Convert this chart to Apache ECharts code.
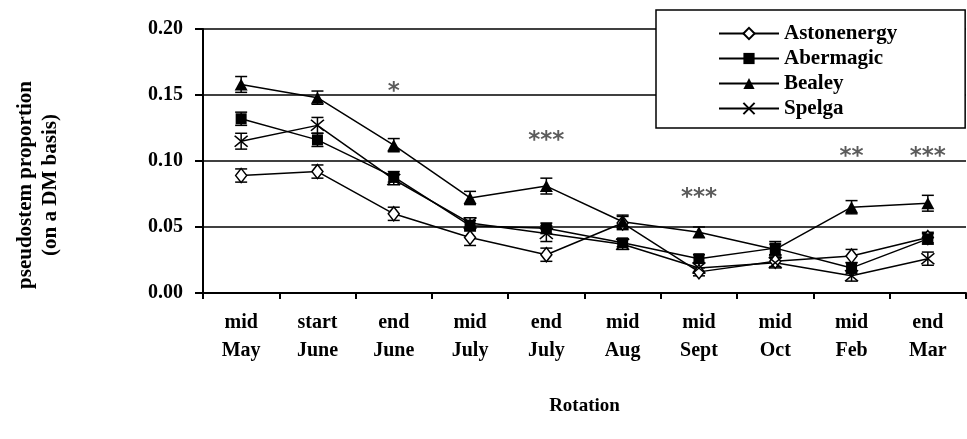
<!DOCTYPE html>
<html><head><meta charset="utf-8">
<script src="https://cdn.jsdelivr.net/npm/echarts@6/dist/echarts.min.js"></script>
<style>html,body{margin:0;padding:0;background:#fff}#c{width:967px;height:439px}</style>
</head><body><div id="c"></div>
<script>
const categories = ['mid\nMay','start\nJune','end\nJune','mid\nJuly','end\nJuly','mid\nAug','mid\nSept','mid\nOct','mid\nFeb','end\nMar'];
const yTicks = [0, 0.05, 0.10, 0.15, 0.20];
const astonenergy = [0.089, 0.092, 0.060, 0.042, 0.029, 0.053, 0.016, 0.024, 0.028, 0.042];
const abermagic   = [0.132, 0.116, 0.088, 0.051, 0.049, 0.038, 0.026, 0.034, 0.019, 0.041];
const bealey      = [0.158, 0.148, 0.112, 0.072, 0.081, 0.054, 0.046, 0.033, 0.065, 0.068];
const spelga      = [0.115, 0.127, 0.086, 0.053, 0.045, 0.037, 0.019, 0.023, 0.013, 0.026];
const astonenergyErr = [0.005, 0.005, 0.005, 0.006, 0.005, 0.005, 0.003, 0.004, 0.005, 0.004];
const abermagicErr   = [0.005, 0.005, 0.004, 0.004, 0.004, 0.003, 0.003, 0.005, 0.004, 0.004];
const bealeyErr      = [0.006, 0.005, 0.005, 0.005, 0.006, 0.005, 0.004, 0.004, 0.005, 0.006];
const spelgaErr      = [0.006, 0.006, 0.004, 0.004, 0.006, 0.004, 0.004, 0.004, 0.004, 0.005];
const stars     = ['', '', '*', '', '***', '', '***', '', '**', '***'];
const starLevel = [null, null, 0.156, null, 0.119, null, 0.076, null, 0.107, 0.107];

const FONT = 'Liberation Serif';
const names = ['Astonenergy','Abermagic','Bealey','Spelga'];
const values = [astonenergy, abermagic, bealey, spelga];
const errs = [astonenergyErr, abermagicErr, bealeyErr, spelgaErr];
const symbols = ['diamond', 'rect', 'triangle', 'path://M0,0L12,10M12,0L0,10'];
const symbolSizes = [[11,14], 11, [13,12], [13,11]];
const fills = ['#fff', '#000', '#000', 'none'];

const series = [];
names.forEach((n, k) => {
  series.push({
    name: n + ' err', type: 'custom', silent: true, z: 2,
    data: values[k].map((v, i) => [i, v, errs[k][i]]),
    encode: {x: 0, y: 1},
    renderItem: function (params, api) {
      const i = api.value(0), v = api.value(1), e = api.value(2);
      const hi = api.coord([i, v + e]), lo = api.coord([i, v - e]);
      const w = 6;
      const st = {stroke: '#000', lineWidth: 1.5};
      return {type: 'group', children: [
        {type: 'line', shape: {x1: hi[0], y1: hi[1], x2: lo[0], y2: lo[1]}, style: st},
        {type: 'line', shape: {x1: hi[0]-w, y1: hi[1], x2: hi[0]+w, y2: hi[1]}, style: st},
        {type: 'line', shape: {x1: lo[0]-w, y1: lo[1], x2: lo[0]+w, y2: lo[1]}, style: st}
      ]};
    }
  });
});
names.forEach((n, k) => {
  series.push({
    name: n, type: 'line', data: values[k], z: 3,
    symbol: symbols[k], symbolSize: symbolSizes[k], showAllSymbol: true,
    lineStyle: {color: '#000', width: 1.5},
    itemStyle: {color: fills[k], borderColor: '#000', borderWidth: k === 0 || k === 3 ? 1.5 : 0},
    emphasis: {disabled: true}, animation: false
  });
});
series.push({
  name: 'stars', type: 'scatter', symbolSize: 0, silent: true, z: 4,
  data: starLevel.map((v, i) => [i, v, stars[i]]),
  label: {show: true, position: 'inside', offset: [0, 5], formatter: p => p.value[2],
    fontFamily: 'DejaVu Sans', fontWeight: 'bold', fontSize: 23, color: '#333', verticalAlign: 'middle'}
});

const chart = echarts.init(document.getElementById('c'), null, {renderer: 'canvas'});
chart.setOption({
  animation: false,
  backgroundColor: '#fff',
  grid: {left: 203, right: 1, top: 29, bottom: 146, containLabel: false},
  xAxis: {
    type: 'category', data: categories, boundaryGap: true,
    name: 'Rotation', nameLocation: 'middle', nameGap: 104,
    nameTextStyle: {fontFamily: FONT, fontWeight: 'bold', fontSize: 19, color: '#000'},
    axisLine: {lineStyle: {color: '#000', width: 2}},
    axisTick: {show: true, alignWithLabel: false, length: 6, lineStyle: {color: '#000', width: 2}},
    axisLabel: {interval: 0, margin: 16, fontFamily: FONT, fontWeight: 'bold', fontSize: 20, lineHeight: 28, color: '#000'},
    splitLine: {show: false}
  },
  yAxis: {
    type: 'value', min: 0, max: 0.2, interval: 0.05,
    axisLine: {show: true, lineStyle: {color: '#000', width: 2}},
    axisTick: {show: true, length: 8, lineStyle: {color: '#000', width: 2}},
    axisLabel: {margin: 20, fontFamily: FONT, fontWeight: 'bold', fontSize: 20, color: '#000',
      formatter: v => v.toFixed(2)},
    splitLine: {show: true, lineStyle: {color: '#000', width: 1.5}}
  },
  legend: {
    data: names, orient: 'vertical', left: 656, top: 10,
    padding: [13, 68, 9, 62], itemGap: 4, itemWidth: 60, itemHeight: 14, itemTextGap: 1,
    backgroundColor: '#fff', borderColor: '#000', borderWidth: 1.5, borderRadius: 0,
    textStyle: {fontFamily: FONT, fontWeight: 'bold', fontSize: 21, color: '#000'},
    selectedMode: false, z: 10
  },
  graphic: [{
    type: 'text', x: 38, y: 185, rotation: Math.PI / 2,
    style: {text: 'pseudostem proportion\n(on a DM basis)', fontFamily: FONT, fontWeight: 'bold',
      fontSize: 21, lineHeight: 25, fill: '#000', align: 'center', verticalAlign: 'middle'}
  }],
  series: series
});
</script></body></html>
